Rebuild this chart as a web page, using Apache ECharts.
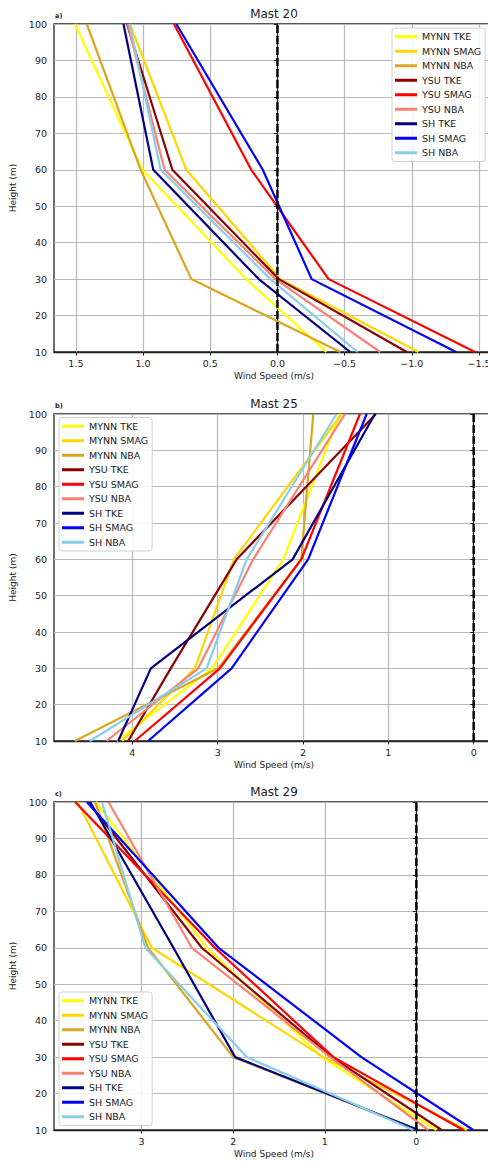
<!DOCTYPE html>
<html><head><meta charset="utf-8">
<script src="https://cdn.jsdelivr.net/npm/echarts@6/dist/echarts.min.js"></script>
<style>html,body{margin:0;padding:0;background:#fff}#c{width:488px;height:1162px}</style>
</head><body><div id="c"></div>
<script>
// ---------- data ----------
const heights = [10, 30, 60, 100];
const seriesNames = ['MYNN TKE','MYNN SMAG','MYNN NBA','YSU TKE','YSU SMAG','YSU NBA','SH TKE','SH SMAG','SH NBA'];
const panelTitles = ['Mast 20','Mast 25','Mast 29'];
const panelLetters = ['a)','b)','c)'];
const mast20Ticks = [1.5, 1.0, 0.5, 0, -0.5, -1.0, -1.5];
const mast25Ticks = [4, 3, 2, 1, 0];
const mast29Ticks = [3, 2, 1, 0];

// wind speed (m/s) at heights 10, 30, 60, 100 m
const mast20MynnTke  = [-0.364, 0.232, 1.005, 1.508];
const mast20MynnSmag = [-1.050, -0.022, 0.678, 1.098];
const mast20MynnNba  = [-0.468, 0.641, 1.018, 1.419];
const mast20YsuTke   = [-0.963, -0.010, 0.782, 1.120];
const mast20YsuSmag  = [-1.471, -0.381, 0.195, 0.770];
const mast20YsuNba   = [-0.765, 0.015, 0.840, 1.115];
const mast20ShTke    = [-0.542, 0.139, 0.924, 1.146];
const mast20ShSmag   = [-1.330, -0.255, 0.109, 0.752];
const mast20ShNba    = [-0.597, 0.052, 0.869, 1.100];

const mast25MynnTke  = [4.180, 3.064, 2.232, 1.567];
const mast25MynnSmag = [4.120, 3.267, 2.810, 1.548];
const mast25MynnNba  = [4.674, 2.994, 2.020, 1.880];
const mast25YsuTke   = [4.049, 3.550, 2.778, 1.145];
const mast25YsuSmag  = [3.971, 2.974, 2.020, 1.333];
const mast25YsuNba   = [4.302, 3.228, 2.584, 1.509];
const mast25ShTke    = [4.166, 3.783, 2.122, 1.157];
const mast25ShSmag   = [3.815, 2.837, 1.940, 1.254];
const mast25ShNba    = [4.498, 3.130, 2.660, 1.606];

const mast29MynnTke  = [-0.220, 1.033, 2.288, 3.500];
const mast29MynnSmag = [-0.550, 1.015, 2.889, 3.700];
const mast29MynnNba  = [-0.020, 2.000, 2.930, 3.508];
const mast29YsuTke   = [-0.277, 0.924, 2.343, 3.584];
const mast29YsuSmag  = [-0.513, 0.906, 2.200, 3.726];
const mast29YsuNba   = [-0.131, 0.940, 2.452, 3.362];
const mast29ShTke    = [-0.020, 1.979, 2.653, 3.562];
const mast29ShSmag   = [-0.622, 0.600, 2.160, 3.598];
const mast29ShNba    = [0.033, 1.852, 2.960, 3.434];

// ---------- styling / layout ----------
const seriesColors = ['#FFFF00','#FFD700','#DAA520','#8B0000','#FF0000','#FA8072','#000080','#0000FF','#87CEEB'];
const FONT = 'DejaVu Sans';
const TXT = '#222';

const panels = [
  { values: [mast20MynnTke, mast20MynnSmag, mast20MynnNba, mast20YsuTke, mast20YsuSmag, mast20YsuNba, mast20ShTke, mast20ShSmag, mast20ShNba],
    ticks: mast20Ticks, top: 24, height: 328, xMin: -1.612, xMax: 1.663, legendLeft: 392, legendTop: 28,
    fmt: v => (v < 0 ? '\u2212' : '') + Math.abs(v).toFixed(1) },
  { values: [mast25MynnTke, mast25MynnSmag, mast25MynnNba, mast25YsuTke, mast25YsuSmag, mast25YsuNba, mast25ShTke, mast25ShSmag, mast25ShNba],
    ticks: mast25Ticks, top: 414, height: 327, xMin: -0.238, xMax: 4.918, legendLeft: 59, legendTop: 417.5,
    fmt: v => (v < 0 ? '\u2212' : '') + Math.abs(Math.round(v)) },
  { values: [mast29MynnTke, mast29MynnSmag, mast29MynnNba, mast29YsuTke, mast29YsuSmag, mast29YsuNba, mast29ShTke, mast29ShSmag, mast29ShNba],
    ticks: mast29Ticks, top: 802, height: 328, xMin: -0.848, xMax: 3.957, legendLeft: 59, legendTop: 992,
    fmt: v => (v < 0 ? '\u2212' : '') + Math.abs(Math.round(v)) }
];

const grid = [], xAxis = [], yAxis = [], series = [], legend = [], graphic = [];
const GL = 54, GW = 440;

panels.forEach((p, i) => {
  grid.push({ left: GL, top: p.top, width: GW, height: p.height, show: true,
    borderColor: '#222', borderWidth: 1.3, backgroundColor: 'transparent',
    containLabel: false, outerBoundsMode: 'none' });
  xAxis.push({
    type: 'value', gridIndex: i, inverse: true, min: p.xMin, max: p.xMax,
    name: 'Wind Speed (m/s)', nameLocation: 'middle', nameGap: 19,
    nameTextStyle: { fontFamily: FONT, fontSize: 9, color: TXT },
    axisLine: { show: true, onZero: false, lineStyle: { color: '#222', width: 1.3 } },
    axisTick: { show: true, inside: false, length: 3.5, customValues: p.ticks, lineStyle: { color: '#222', width: 1 } },
    axisLabel: { show: true, margin: 6, customValues: p.ticks, fontFamily: FONT, fontSize: 9.5, color: TXT,
      formatter: p.fmt, showMinLabel: true, showMaxLabel: true, hideOverlap: false },
    splitLine: { show: true, lineStyle: { color: '#b8b8b8', width: 1.2 } }
  });
  yAxis.push({
    type: 'value', gridIndex: i, min: 10, max: 100, interval: 10,
    name: 'Height (m)', nameLocation: 'middle', nameGap: 27,
    nameTextStyle: { fontFamily: FONT, fontSize: 9, color: TXT },
    axisLine: { show: true, lineStyle: { color: '#222', width: 1.3 } },
    axisTick: { show: true, inside: false, length: 3.5, lineStyle: { color: '#222', width: 1 } },
    axisLabel: { margin: 7, fontFamily: FONT, fontSize: 9.5, color: TXT },
    splitLine: { show: true, lineStyle: { color: '#b8b8b8', width: 1.2 } }
  });
  seriesNames.forEach((name, k) => {
    series.push({
      type: 'line', name, xAxisIndex: i, yAxisIndex: i,
      data: heights.map((h, j) => [p.values[k][j], h]),
      showSymbol: false, symbol: 'none', silent: true, z: 3 + k * 0.01,
      color: seriesColors[k],
      itemStyle: { color: seriesColors[k] },
      lineStyle: { color: seriesColors[k], width: 2.2 },
      animation: false
    });
  });
  series.push({
    type: 'line', name: 'zero' + i, xAxisIndex: i, yAxisIndex: i,
    data: [[0, 10], [0, 100]], showSymbol: false, symbol: 'none', silent: true, z: 5,
    lineStyle: { color: '#000', width: 2.4, type: [8, 3] }, animation: false
  });
  legend.push({
    data: seriesNames, orient: 'vertical', left: p.legendLeft, top: p.legendTop,
    icon: 'rect', itemWidth: 22, itemHeight: 3, itemGap: 0,
    padding: [1.5, 4, 1.5, 3],
    backgroundColor: 'rgba(255,255,255,0.85)', borderColor: '#d0d0d0', borderWidth: 1, borderRadius: 3,
    textStyle: { fontFamily: FONT, fontSize: 9.5, color: TXT, lineHeight: 14.5 },
    selectedMode: false
  });
  graphic.push({
    type: 'text', x: GL + GW / 2, y: p.top - 10, silent: true,
    style: { text: panelTitles[i], fontFamily: FONT, fontSize: 12, fill: TXT, textAlign: 'center', textVerticalAlign: 'middle' }
  });
  graphic.push({
    type: 'text', x: 55, y: p.top - 8, silent: true,
    style: { text: panelLetters[i], fontFamily: FONT, fontSize: 6.5, fontWeight: 'bold', fill: TXT, textAlign: 'left', textVerticalAlign: 'middle' }
  });
});

const chart = echarts.init(document.getElementById('c'), null, { renderer: 'svg', width: 488, height: 1162 });
chart.setOption({
  animation: false,
  backgroundColor: '#fff',
  textStyle: { fontFamily: FONT },
  grid, xAxis, yAxis, series, legend, graphic
});
</script>
</body></html>
